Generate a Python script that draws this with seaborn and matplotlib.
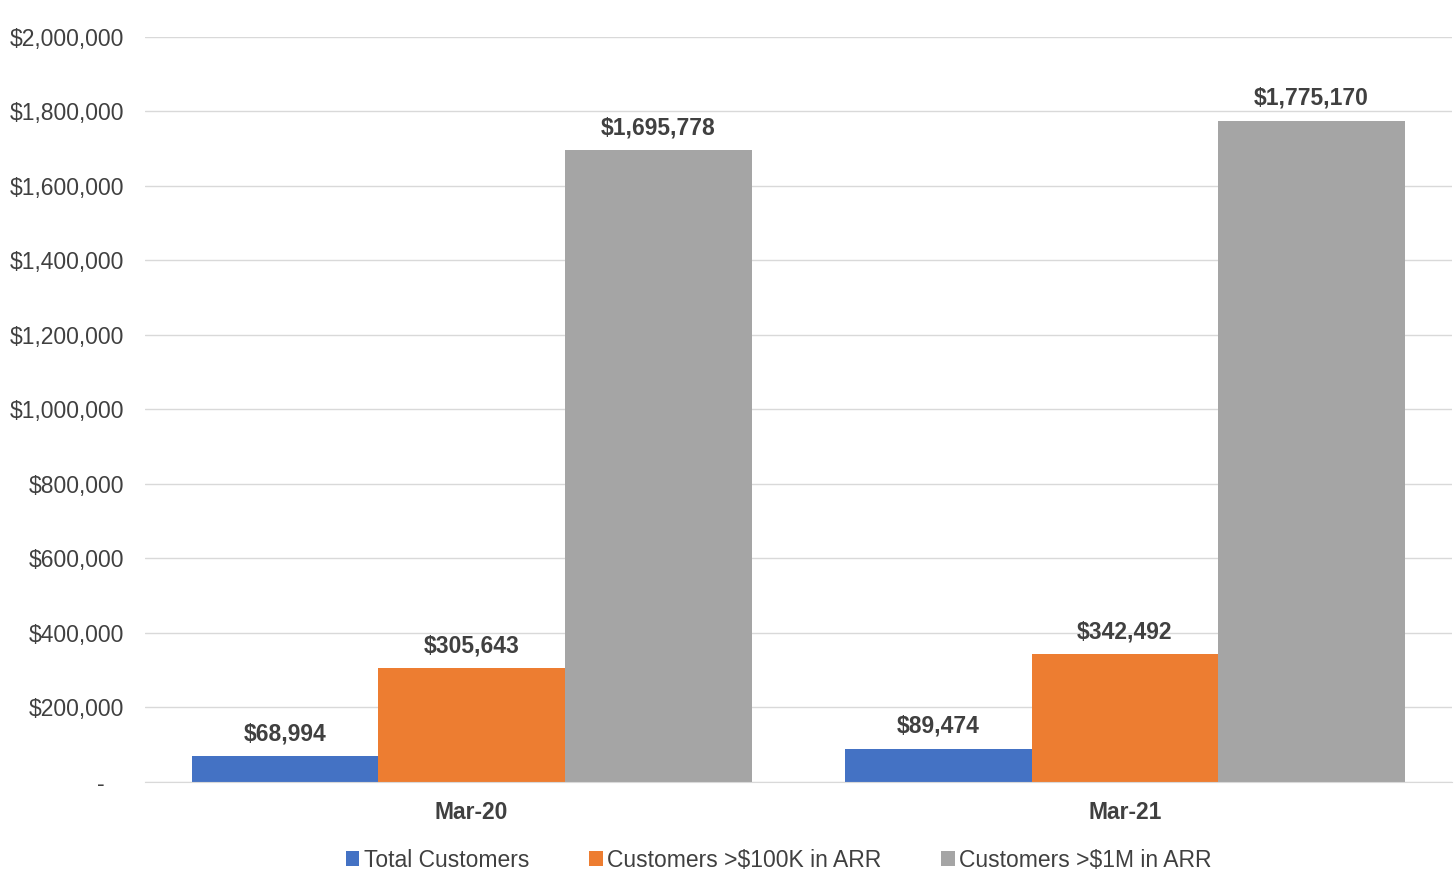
import numpy as np
import pandas as pd
import matplotlib.pyplot as plt
import seaborn as sns
from matplotlib.ticker import FuncFormatter

periods = ["Mar-20", "Mar-21"]
series = ["Total Customers", "Customers >$100K in ARR", "Customers >$1M in ARR"]
total_customers = [68994, 89474]
over_100k = [305643, 342492]
over_1m = [1695778, 1775170]
colors = ["#4472C4", "#ED7D31", "#A5A5A5"]

df = pd.DataFrame({
    "period": periods * 3,
    "series": [series[0]] * 2 + [series[1]] * 2 + [series[2]] * 2,
    "value": total_customers + over_100k + over_1m,
})

sns.set_style("white")
plt.rcParams["font.family"] = ["Liberation Sans", "DejaVu Sans"]
txt = "#404040"

fig = plt.figure(figsize=(14.56, 8.89), dpi=100)
ax = fig.add_axes([0.0996, 0.1204, 0.8974, 0.838])

sns.barplot(data=df, x="period", y="value", hue="series", hue_order=series,
            palette=colors, width=0.857, gap=0, saturation=1, ax=ax,
            linewidth=0, legend=True)

ax.set_ylim(0, 2000000)
ax.set_yticks(np.arange(0, 2000001, 200000))
ax.yaxis.set_major_formatter(FuncFormatter(lambda v, p: "-   " if v == 0 else f"${v:,.0f}"))
ax.grid(axis="y", color="#D9D9D9", linewidth=1)
ax.set_axisbelow(True)
for s in ["top", "right", "left"]:
    ax.spines[s].set_visible(False)
ax.spines["bottom"].set_color("#D9D9D9")
ax.tick_params(axis="y", length=0, labelsize=16.5, labelcolor=txt, pad=15)
ax.tick_params(axis="x", length=0, labelsize=16.5, labelcolor=txt, pad=14)
for lab in ax.get_xticklabels():
    lab.set_fontweight("bold")
ax.set_xlabel("")
ax.set_ylabel("")

for cont in ax.containers:
    ax.bar_label(cont, labels=[f"${v:,.0f}" for v in cont.datavalues],
                 padding=8, fontsize=16.5, fontweight="bold", color=txt)

ax.legend(loc="upper center", bbox_to_anchor=(0.485, -0.062), ncol=3, frameon=False,
          fontsize=16.5, handlelength=0.6, handleheight=0.6, handletextpad=0.2,
          columnspacing=2.6, labelcolor=txt)

fig.savefig("out.png", dpi=100)
